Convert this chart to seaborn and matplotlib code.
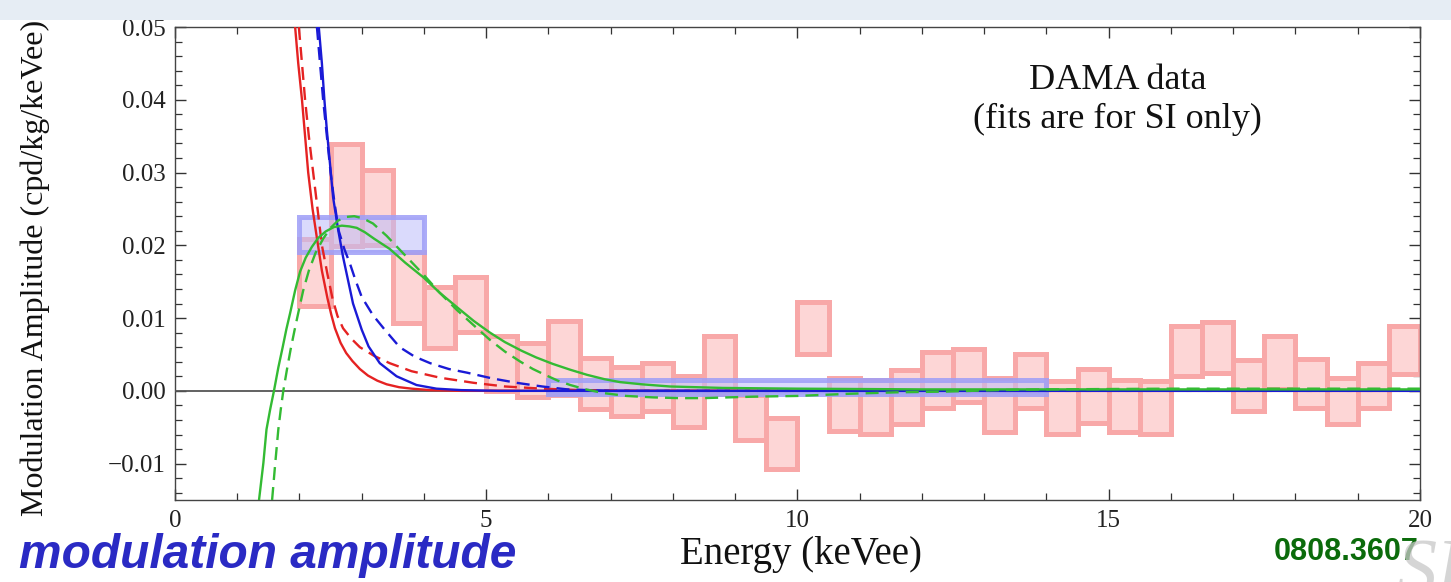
import numpy as np
import pandas as pd
import matplotlib
matplotlib.use("Agg")
import matplotlib.pyplot as plt
from matplotlib.ticker import MultipleLocator, FuncFormatter
from matplotlib.patches import Rectangle
import seaborn as sns

# DAMA modulation amplitudes in 0.5 keVee bins (lower edge, central value, error)
bin_lo = [2.0, 2.5, 3.0, 3.5, 4.0, 4.5, 5.0, 5.5, 6.0, 6.5, 7.0, 7.5,
          8.0, 8.5, 9.0, 9.5, 10.0, 10.5, 11.0, 11.5, 12.0, 12.5, 13.0, 13.5,
          14.0, 14.5, 15.0, 15.5, 16.0, 16.5, 17.0, 17.5, 18.0, 18.5, 19.0, 19.5]
amp = [0.0162, 0.0269, 0.0252, 0.0142, 0.0101, 0.0119, 0.0038, 0.0029, 0.0045,
       0.0010, -0.0001, 0.0005, -0.0015, 0.0035, -0.0037, -0.0073, 0.0086, -0.0019,
       -0.0022, -0.0009, 0.0015, 0.0021, -0.0019, 0.0014, -0.0023, -0.0007, -0.0021,
       -0.0023, 0.0055, 0.0060, 0.0007, 0.0039, 0.0010, -0.0014, 0.0007, 0.0056]
amp_err = [0.0046, 0.0070, 0.0052, 0.0049, 0.0042, 0.0038, 0.0038, 0.0037, 0.0051,
           0.0035, 0.0034, 0.0033, 0.0035, 0.0040, 0.0031, 0.0035, 0.0036, 0.0036,
           0.0037, 0.0037, 0.0038, 0.0037, 0.0037, 0.0037, 0.0036, 0.0037, 0.0036,
           0.0036, 0.0034, 0.0035, 0.0035, 0.0036, 0.0034, 0.0032, 0.0031, 0.0033]
bin_width = 0.5

# Wide-bin averages
wide_lo = [2.0, 6.0]
wide_hi = [4.0, 14.0]
wide_amp = [0.0215, 0.0005]
wide_err = [0.0024, 0.0010]

# SI fit curves
red_E = [1.93, 1.98, 2.04, 2.09, 2.14, 2.21, 2.28, 2.36, 2.45, 2.51, 2.57, 2.66, 2.75,
         2.85, 2.97, 3.1, 3.25, 3.4, 3.6, 3.8, 4.1, 4.6, 20.0]
red_A = [0.050, 0.045, 0.040, 0.035, 0.030, 0.025, 0.021, 0.0165, 0.0127, 0.0105, 0.0086,
         0.0066, 0.0052, 0.0041, 0.0030, 0.0021, 0.0014, 0.0009, 0.0005, 0.0003, 0.0001,
         0.0, 0.0]
red_dash_E = [1.99, 2.04, 2.09, 2.15, 2.22, 2.29, 2.36, 2.45, 2.53, 2.61, 2.70, 2.83, 2.97,
              3.2, 3.45, 3.8, 4.26, 4.8, 5.3, 5.9, 6.5, 7.5, 20.0]
red_dash_A = [0.050, 0.045, 0.040, 0.035, 0.030, 0.025, 0.020, 0.0160, 0.0127, 0.0103,
              0.0086, 0.0072, 0.0060, 0.0048, 0.0038, 0.0027, 0.0018, 0.0011, 0.0006,
              0.0003, 0.0001, 0.0, 0.0]
blue_E = [2.31, 2.36, 2.40, 2.44, 2.49, 2.54, 2.62, 2.70, 2.78, 2.86, 3.0, 3.11, 3.29,
          3.56, 3.88, 4.2, 4.6, 5.2, 20.0]
blue_A = [0.050, 0.045, 0.040, 0.0358, 0.0312, 0.0266, 0.0222, 0.0184, 0.0152, 0.0120,
          0.0084, 0.0061, 0.0038, 0.0020, 0.0008, 0.0003, 0.0001, 0.0, 0.0]
blue_dash_E = [2.28, 2.33, 2.38, 2.44, 2.50, 2.56, 2.63, 2.72, 2.81, 2.90, 3.0, 3.18, 3.37,
               3.61, 3.85, 4.1, 4.4, 4.69, 5.1, 5.49, 5.9, 6.3, 7.0, 20.0]
blue_dash_A = [0.050, 0.045, 0.040, 0.035, 0.030, 0.026, 0.022, 0.0195, 0.0175, 0.0152,
               0.0129, 0.0104, 0.0084, 0.0060, 0.0047, 0.0038, 0.0030, 0.0025, 0.0017,
               0.0011, 0.0006, 0.0002, 0.0, 0.0]
green_E = [1.35, 1.42, 1.47, 1.53, 1.59, 1.66, 1.73, 1.79, 1.85, 1.93, 2.01, 2.10, 2.20,
           2.30, 2.42, 2.55, 2.68, 2.80, 2.92, 3.05, 3.2, 3.45, 3.7, 3.99, 4.25, 4.53,
           4.8, 5.06, 5.3, 5.57, 5.8, 6.07, 6.35, 6.62, 6.9, 7.15, 7.5, 7.95, 8.8, 10.0,
           12.0, 20.0]
green_A = [-0.015, -0.0099, -0.0053, -0.0025, 0.0, 0.0032, 0.0060, 0.0085, 0.0107, 0.0138,
           0.0164, 0.0183, 0.0198, 0.0210, 0.0219, 0.0225, 0.0227, 0.0226, 0.0224, 0.0218,
           0.0209, 0.0195, 0.0176, 0.0156, 0.0135, 0.0115, 0.0096, 0.0080, 0.0067, 0.0055,
           0.0046, 0.0037, 0.0029, 0.0022, 0.0016, 0.0012, 0.0009, 0.0006, 0.0004, 0.0003,
           0.0002, 0.0002]
green_dash_E = [1.56, 1.61, 1.66, 1.70, 1.74, 1.80, 1.86, 1.92, 1.98, 2.06, 2.15, 2.26,
                2.38, 2.50, 2.62, 2.75, 2.88, 3.02, 3.18, 3.4, 3.61, 3.8, 3.99, 4.25, 4.53,
                4.8, 5.06, 5.3, 5.55, 5.75, 5.97, 6.15, 6.35, 6.6, 6.88, 7.25, 7.68, 8.1,
                8.48, 9.29, 10.0, 10.84, 11.6, 12.4, 13.2, 14.0, 16.0, 20.0]
green_dash_A = [-0.015, -0.0100, -0.0053, -0.0025, 0.0, 0.0030, 0.0058, 0.0083, 0.0107,
                0.0138, 0.0165, 0.0190, 0.0209, 0.0224, 0.0234, 0.0239, 0.0240, 0.0237,
                0.0230, 0.0213, 0.0194, 0.0177, 0.0160, 0.0135, 0.0111, 0.0090, 0.0070,
                0.0054, 0.0040, 0.0030, 0.0021, 0.0014, 0.0008, 0.0002, -0.0003, -0.0007,
                -0.0009, -0.0010, -0.0010, -0.0008, -0.0007, -0.0004, -0.0002, -0.0001,
                0.0001, 0.0002, 0.0003, 0.0003]

x_ticks = [0, 5, 10, 15, 20]
y_ticks = [-0.01, 0.00, 0.01, 0.02, 0.03, 0.04, 0.05]

sns.set_style("ticks")
plt.rcParams["font.family"] = ["Liberation Serif", "DejaVu Serif"]

fig = plt.figure(figsize=(14.51, 5.82), dpi=100)
fig.patch.set_facecolor("white")
ax = fig.add_axes([0.1206, 0.1409, 0.8580, 0.8127])

# light banner strip across the top of the slide
fig.patches.append(Rectangle((0, 0.966), 1, 0.034, transform=fig.transFigure,
                             facecolor="#e6edf4", edgecolor="none", zorder=0))

# data boxes
box_edge = "#f8a8a8"
box_fill = "#fdd6d6"
lo = np.array(amp) - np.array(amp_err)
hi = np.array(amp) + np.array(amp_err)
ax.bar(bin_lo, hi - lo, bottom=lo, width=bin_width, align="edge",
       color=box_fill, edgecolor=box_edge, linewidth=3.6, zorder=2)

wlo = np.array(wide_amp) - np.array(wide_err)
whi = np.array(wide_amp) + np.array(wide_err)
ax.bar(wide_lo, whi - wlo, bottom=wlo, width=np.array(wide_hi) - np.array(wide_lo),
       align="edge", color=(0.74, 0.74, 0.98, 0.55), edgecolor=(0.62, 0.62, 0.97, 0.85),
       linewidth=3.6, zorder=3)

ax.axhline(0, color="#555555", lw=1.3, zorder=4)

curves = [
    (red_E, red_A, "#e52222", "-"),
    (red_dash_E, red_dash_A, "#e52222", "--"),
    (blue_E, blue_A, "#1a1ad6", "-"),
    (blue_dash_E, blue_dash_A, "#1a1ad6", "--"),
    (green_E, green_A, "#33bb33", "-"),
    (green_dash_E, green_dash_A, "#33bb33", "--"),
]
for E, A, col, ls in curves:
    df = pd.DataFrame({"E": E, "A": A})
    line_ax = sns.lineplot(data=df, x="E", y="A", ax=ax, color=col, lw=1.7,
                           sort=False, zorder=5)
    line = line_ax.lines[-1]
    line.set_solid_joinstyle("round")
    if ls == "--":
        line.set_dashes((5.5, 3))

ax.set_xlim(0, 20)
ax.set_ylim(-0.015, 0.05)
ax.set_xticks(x_ticks)
ax.set_yticks(y_ticks)
ax.xaxis.set_minor_locator(MultipleLocator(1))
ax.yaxis.set_minor_locator(MultipleLocator(0.002))
ax.xaxis.set_major_formatter(FuncFormatter(lambda v, p: f"{v:g}"))
ax.yaxis.set_major_formatter(FuncFormatter(lambda v, p: f"{v:.2f}".replace("-", "\u2212")
                                           if abs(v) > 1e-9 else "0.00"))
ax.tick_params(which="major", direction="in", top=True, right=True, length=8,
               width=1.0, color="#333333", labelsize=18, labelcolor="#222222", pad=7)
ax.tick_params(which="minor", direction="in", top=True, right=True, length=5,
               width=0.9, color="#333333")
for s in ax.spines.values():
    s.set_color("#444444")
    s.set_linewidth(1.0)
ax.set_xlabel("")
ax.set_ylabel("")

fig.text(0.024, 0.54, "Modulation Amplitude (cpd/kg/keVee)", rotation=90,
         ha="center", va="center", fontsize=23, color="#111111")
fig.text(0.552, 0.047, "Energy (keVee)", ha="center", va="center",
         fontsize=28, color="#111111")
ax.text(0.757, 0.887, "DAMA data", transform=ax.transAxes, ha="center",
        va="center", fontsize=26, color="#111111")
ax.text(0.757, 0.805, "(fits are for SI only)", transform=ax.transAxes, ha="center",
        va="center", fontsize=26, color="#111111")

fig.text(0.013, 0.045, "modulation amplitude", ha="left", va="center",
         fontsize=34.5, fontweight="bold", fontstyle="italic", color="#2a2ac4",
         family=["Liberation Sans", "DejaVu Sans"])
fig.text(0.978, 0.052, "0808.3607", ha="right", va="center", fontsize=22,
         fontweight="bold", color="#0b6b0b", family=["Liberation Sans", "DejaVu Sans"])
fig.text(0.962, -0.05, "SK", ha="left", va="bottom", fontsize=58, fontstyle="italic",
         color="#c8c8c8", alpha=0.75, zorder=10)

fig.savefig("out.png", dpi=100, facecolor="white")
